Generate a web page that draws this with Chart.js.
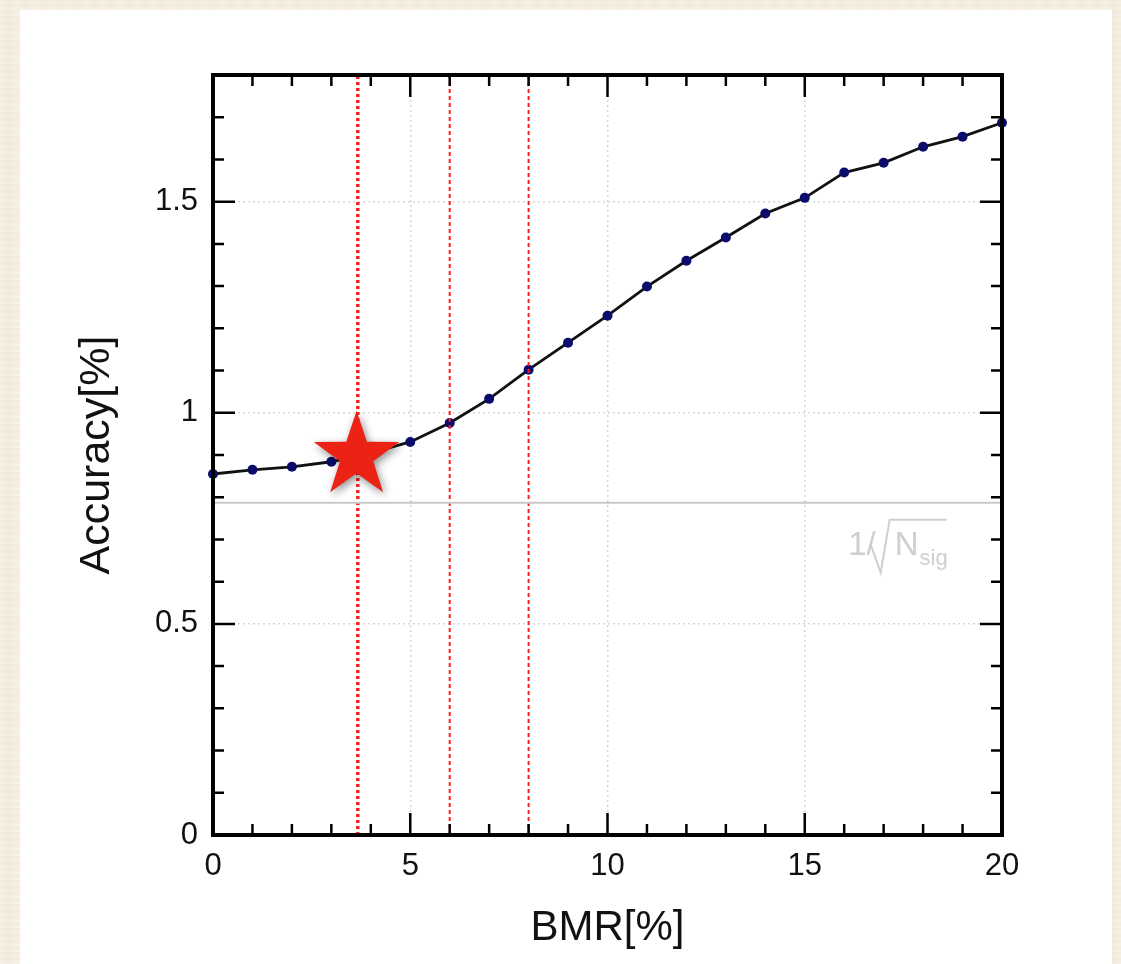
<!DOCTYPE html>
<html>
<head>
<meta charset="utf-8">
<script src="https://cdn.jsdelivr.net/npm/chart.js@4"></script>
<style>
    html, body {
        margin: 0;
        padding: 0;
        width: 1121px;
        height: 964px;
        overflow: hidden;
        background-color: #f4ecde;
        background-image:
            repeating-linear-gradient(0deg, rgba(255,255,255,0.25) 0px, rgba(255,255,255,0) 3px, rgba(230,218,196,0.18) 6px),
            repeating-linear-gradient(90deg, rgba(255,255,255,0.15) 0px, rgba(235,224,205,0.2) 9px, rgba(255,255,255,0.1) 17px);
    }
    #panel {
        position: absolute;
        left: 20px;
        top: 10px;
        width: 1092px;
        height: 960px;
        background: #fff;
    }
    #acc_chart {
        position: absolute;
        left: 0;
        top: 0;
    }
</style>
</head>
<body>
<div id="panel"></div>
<canvas id="acc_chart" width="1121" height="964"></canvas>
<script>
// values
const bmr = [0, 1, 2, 3, 4, 5, 6, 7, 8, 9, 10, 11, 12, 13, 14, 15, 16, 17, 18, 19, 20];
const accuracy = [0.855, 0.865, 0.872, 0.884, 0.905, 0.931, 0.976, 1.033, 1.102, 1.166, 1.230,
                  1.299, 1.360, 1.415, 1.472, 1.509, 1.569, 1.592, 1.630, 1.654, 1.687];
const nsigLimit = 0.787;          // grey 1/sqrt(Nsig) line
const cutLines = [3.67, 6, 8];    // red vertical markers
const starX = 3.64;
const starY = 0.898;
const xMajor = [0, 5, 10, 15, 20];
const yMajor = [0, 0.5, 1, 1.5];

const FONT = "'Liberation Sans', Arial, Helvetica, sans-serif";

function isMajorY(v) {
    return yMajor.some(m => Math.abs(m - v) < 1e-6);
}

function starPath(ctx, cx, cy, R, r) {
    ctx.beginPath();
    for (let i = 0; i < 10; i++) {
        const rad = i % 2 ? r : R;
        const ang = -Math.PI / 2 + i * Math.PI / 5;
        ctx.lineTo(cx + rad * Math.cos(ang), cy + rad * Math.sin(ang));
    }
    ctx.closePath();
}

const extras = {
    id: 'extras',
    afterDatasetsDraw(chart) {
        const {ctx, scales: {x, y}} = chart;
        ctx.save();

        // 1/sqrt(N_sig) label
        const lx = x.getPixelForValue(16.1);
        const ly = y.getPixelForValue(0.664);
        ctx.fillStyle = '#cfcfcf';
        ctx.strokeStyle = '#cfcfcf';
        ctx.font = '33px ' + FONT;
        ctx.textBaseline = 'alphabetic';
        ctx.fillText('1/', lx, ly);
        const w = ctx.measureText('1/').width;
        ctx.lineWidth = 2;
        ctx.beginPath();
        ctx.moveTo(lx + w - 5, ly - 10);
        ctx.lineTo(lx + w + 5, ly + 18);
        ctx.lineTo(lx + w + 14, ly - 35);
        ctx.lineTo(lx + w + 71, ly - 35);
        ctx.stroke();
        ctx.fillText('N', lx + w + 19, ly);
        const nw = ctx.measureText('N').width;
        ctx.font = '22px ' + FONT;
        ctx.fillText('sig', lx + w + 20 + nw, ly + 10);

        // red star
        const sx = x.getPixelForValue(starX);
        const sy = y.getPixelForValue(starY);
        ctx.shadowColor = 'rgba(0, 0, 0, 0.45)';
        ctx.shadowBlur = 9;
        ctx.shadowOffsetX = 2;
        ctx.shadowOffsetY = 3;
        ctx.fillStyle = '#ec2314';
        starPath(ctx, sx, sy, 45, 17.5);
        ctx.fill();
        ctx.restore();
    },
    afterDraw(chart) {
        const {ctx, chartArea: a, scales: {x, y}} = chart;
        ctx.save();
        ctx.strokeStyle = '#000';
        ctx.lineWidth = 2.5;
        ctx.beginPath();
        x.ticks.forEach(t => {
            const px = x.getPixelForValue(t.value);
            const len = xMajor.includes(t.value) ? 22 : 11;
            ctx.moveTo(px, a.bottom);
            ctx.lineTo(px, a.bottom - len);
            ctx.moveTo(px, a.top);
            ctx.lineTo(px, a.top + len);
        });
        y.ticks.forEach(t => {
            const py = y.getPixelForValue(t.value);
            const len = isMajorY(t.value) ? 22 : 11;
            ctx.moveTo(a.left, py);
            ctx.lineTo(a.left + len, py);
            ctx.moveTo(a.right, py);
            ctx.lineTo(a.right - len, py);
        });
        ctx.stroke();
        // plot frame
        ctx.lineWidth = 4;
        ctx.strokeRect(a.left, a.top, a.right - a.left, a.bottom - a.top);
        ctx.restore();
    }
};

const ctx = document.getElementById('acc_chart').getContext('2d');

const datasets = [
    {
        label: '1/sqrt(Nsig)',
        data: [{x: 0, y: nsigLimit}, {x: 20, y: nsigLimit}],
        borderColor: '#c9c9c9',
        borderWidth: 2,
        pointRadius: 0
    }
];

cutLines.forEach((c, i) => {
    datasets.push({
        label: 'cut ' + c,
        data: [{x: c, y: 0}, {x: c, y: 1.8}],
        borderColor: '#ff1f1f',
        borderWidth: i === 0 ? 3.5 : 2,
        borderDash: i === 0 ? [3, 3] : [4, 3],
        pointRadius: 0
    });
});

datasets.push({
    label: 'Accuracy',
    data: bmr.map((b, i) => ({x: b, y: accuracy[i]})),
    borderColor: '#111',
    borderWidth: 2.8,
    pointRadius: 5,
    pointBackgroundColor: '#0b0b6b',
    pointBorderColor: '#0b0b6b',
    pointBorderWidth: 0,
    tension: 0,
    clip: false
});

new Chart(ctx, {
    type: 'line',
    data: {datasets: datasets},
    options: {
        responsive: false,
        animation: false,
        events: [],
        layout: {
            padding: {left: 69, right: 119, top: 75, bottom: 10}
        },
        plugins: {
            legend: {display: false},
            tooltip: {enabled: false}
        },
        scales: {
            x: {
                type: 'linear',
                min: 0,
                max: 20,
                afterFit: s => { s.height = 119; },
                ticks: {
                    stepSize: 1,
                    autoSkip: false,
                    maxRotation: 0,
                    padding: 13,
                    color: '#111',
                    font: {family: FONT, size: 31},
                    callback: v => xMajor.includes(v) ? String(v) : ''
                },
                grid: {
                    drawTicks: false,
                    lineWidth: 1.5,
                    color: c => (c.tick && c.tick.value % 5 === 0 && c.tick.value > 0 && c.tick.value < 20)
                        ? '#d6d6d6' : 'rgba(0,0,0,0)'
                },
                border: {display: false, dash: [2, 3]},
                title: {
                    display: true,
                    text: 'BMR[%]',
                    color: '#111',
                    font: {family: FONT, size: 42},
                    padding: {top: 2, bottom: 0}
                }
            },
            y: {
                min: 0,
                max: 1.8,
                afterFit: s => { s.width = 144; },
                ticks: {
                    stepSize: 0.1,
                    autoSkip: false,
                    padding: 15,
                    color: '#111',
                    font: {family: FONT, size: 31},
                    callback: v => isMajorY(v) ? String(Math.round(v * 10) / 10) : ''
                },
                grid: {
                    drawTicks: false,
                    lineWidth: 1.5,
                    color: c => (c.tick && isMajorY(c.tick.value) && c.tick.value > 0)
                        ? '#d6d6d6' : 'rgba(0,0,0,0)'
                },
                border: {display: false, dash: [2, 3]},
                title: {
                    display: true,
                    text: 'Accuracy[%]',
                    color: '#111',
                    font: {family: FONT, size: 43},
                    padding: {top: 2, bottom: 0}
                }
            }
        }
    },
    plugins: [extras]
});
</script>
</body>
</html>
